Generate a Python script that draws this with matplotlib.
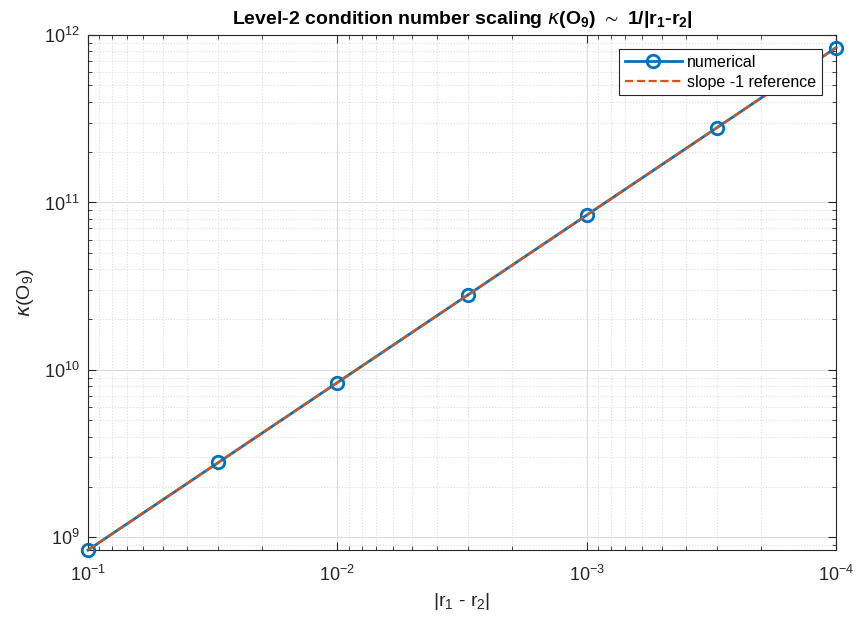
import matplotlib
matplotlib.use('Agg')
import matplotlib.pyplot as plt
import numpy as np

plt.rcParams['font.family'] = ['Liberation Sans', 'DejaVu Sans']
plt.rcParams['mathtext.default'] = 'regular'

# separation |r1 - r2| and condition number kappa(O_9)
gap = [1e-1, 3e-2, 1e-2, 3e-3, 1e-3, 3e-4, 1e-4]
kappa = [8.4e8, 2.8e9, 8.4e9, 2.8e10, 8.4e10, 2.8e11, 8.4e11]
# slope -1 reference through first point
ref = [kappa[0] * gap[0] / g for g in gap]

blue = '#0072BD'
orange = '#D95319'

fig = plt.figure(figsize=(8.57, 6.21), dpi=100)
ax = fig.add_axes([0.1027, 0.1143, 0.8728, 0.8293])

ax.loglog(gap, kappa, '-o', color=blue, lw=2, ms=9, mfc='none', mew=2,
          label='numerical', clip_on=False, zorder=3)
ax.loglog(gap, ref, '--', color=orange, lw=1.6, label='slope -1 reference',
          zorder=4)

ax.set_xlim(1e-1, 1e-4)
ax.set_ylim(8.4e8, 1e12)

ax.grid(True, which='major', color='#dcdcdc', lw=0.8, ls='-')
ax.grid(True, which='minor', color='#dcdcdc', lw=0.8, ls=':')
ax.tick_params(which='both', direction='in', top=True, right=True,
               labelsize=13, colors='#262626')
ax.tick_params(which='major', length=6)
ax.tick_params(which='minor', length=3)
ax.tick_params(axis='x', which='major', pad=11)
ax.tick_params(axis='y', which='major', pad=6)
for s in ax.spines.values():
    s.set_color('#262626')

ax.set_xlabel('|r$_1$ - r$_2$|', fontsize=14, color='#262626', labelpad=4)
ax.set_ylabel(r'$\mathit{\kappa}$(O$_9$)', fontsize=14, color='#262626',
              labelpad=6)
ax.set_title(r'Level-2 condition number scaling $\mathit{\kappa}$(O$_9$) $\sim$ 1/|r$_1$-r$_2$|',
             fontsize=14, fontweight='bold', pad=8)

leg = ax.legend(loc='upper right', fontsize=11.5, fancybox=False, framealpha=1,
                edgecolor='#262626', borderaxespad=0.9, handlelength=3.6,
                handletextpad=0.3, borderpad=0.35, labelspacing=0.3)
leg.get_frame().set_linewidth(0.8)

fig.savefig('out.png', dpi=100)
